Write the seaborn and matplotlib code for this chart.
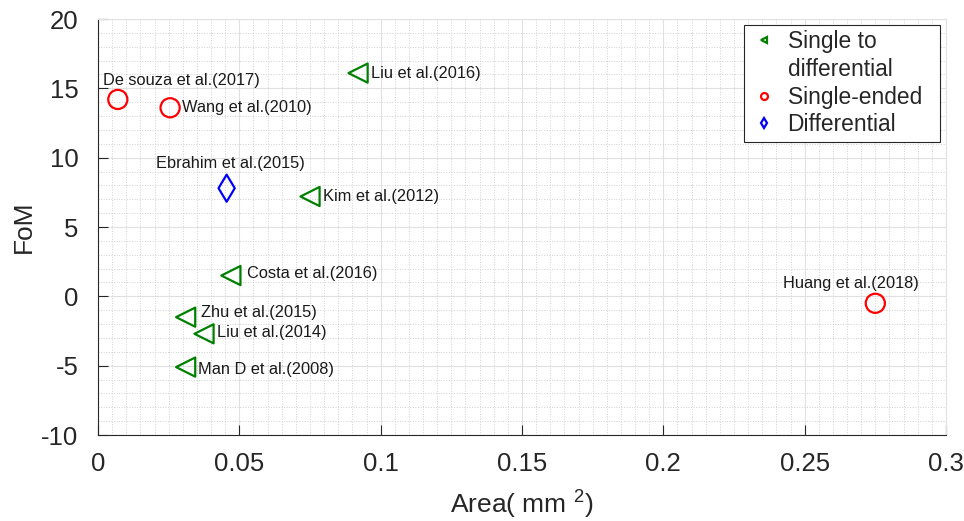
import numpy as np
import pandas as pd
import matplotlib
matplotlib.use("Agg")
import matplotlib.pyplot as plt
from matplotlib.lines import Line2D
from matplotlib.ticker import MultipleLocator
import seaborn as sns

# data
authors = ["Liu et al.(2016)", "De souza et al.(2017)", "Wang et al.(2010)",
           "Ebrahim et al.(2015)", "Kim et al.(2012)", "Costa et al.(2016)",
           "Zhu et al.(2015)", "Liu et al.(2014)", "Man D et al.(2008)",
           "Huang et al.(2018)"]
area = [0.092, 0.007, 0.0255, 0.0455, 0.075, 0.047, 0.031, 0.0375, 0.031, 0.275]
fom = [16.1, 14.2, 13.6, 7.8, 7.2, 1.5, -1.5, -2.7, -5.1, -0.5]
kind = ["Single to differential", "Single-ended", "Single-ended", "Differential",
        "Single to differential", "Single to differential", "Single to differential",
        "Single to differential", "Single to differential", "Single-ended"]
# label offsets in pixels (dx, dy) relative to marker
label_dx = [13, -15, 12, -71, 13, 16, 15, 13, 12, -92]
label_dy = [0, 19, 0, 25, 0, 2, 5, 1, -2, 20]

kinds = ["Single to differential", "Single-ended", "Differential"]
colors = {"Single to differential": "#008000", "Single-ended": "#ff0000", "Differential": "#0000ff"}
markers = {"Single to differential": "<", "Single-ended": "o", "Differential": "d"}

df = pd.DataFrame({"Area": area, "FoM": fom, "Type": kind, "Label": authors})

sns.set_style("white")
plt.rcParams["font.family"] = ["Liberation Sans", "DejaVu Sans"]
plt.rcParams["mathtext.fontset"] = "custom"
plt.rcParams["mathtext.rm"] = "Liberation Sans"

fig = plt.figure(figsize=(9.64, 5.21), dpi=100)
ax = fig.add_axes([0.1017, 0.165, 0.8796, 0.7985])

sns.scatterplot(data=df, x="Area", y="FoM", hue="Type", style="Type",
                palette=colors, markers=markers, hue_order=kinds, style_order=kinds,
                s=190, ax=ax, legend=False, zorder=3)
for coll in ax.collections:
    fc = coll.get_facecolors()
    coll.set_edgecolors(fc)
    coll.set_facecolors("none")
    coll.set_linewidths(1.6)

for a, f, lab, dx, dy in zip(area, fom, authors, label_dx, label_dy):
    ax.annotate(lab, (a, f), xytext=(dx, dy), textcoords="offset pixels",
                ha="left", va="center", fontsize=11.8, color="#1a1a1a")

ax.set_xlim(0, 0.3)
ax.set_ylim(-10, 20)
ax.xaxis.set_minor_locator(MultipleLocator(0.005))
ax.yaxis.set_minor_locator(MultipleLocator(1))
ax.set_xticks(np.arange(0, 0.301, 0.05))
ax.set_xticklabels(["0", "0.05", "0.1", "0.15", "0.2", "0.25", "0.3"])
ax.set_yticks(np.arange(-10, 21, 5))
ax.set_yticklabels([str(v) for v in range(-10, 21, 5)])

ax.grid(which="major", color="#e0e0e0", linestyle="-", linewidth=0.8)
ax.grid(which="minor", color="#d0d0d0", linestyle=":", linewidth=0.7)
ax.set_axisbelow(True)

ax.tick_params(which="major", direction="in", length=7.5, width=0.8,
               labelsize=18.5, colors="#262626", top=False, right=False,
               left=True, bottom=True)
ax.tick_params(axis="x", which="major", pad=12)
ax.tick_params(axis="y", which="major", pad=14)
ax.tick_params(which="minor", length=0)
for side in ["left", "bottom"]:
    ax.spines[side].set_color("#262626")
    ax.spines[side].set_linewidth(0.8)
for side in ["top", "right"]:
    ax.spines[side].set_color("#e0e0e0")
    ax.spines[side].set_linewidth(0.8)

ax.set_xlabel(r"Area( mm $^{2}$)", fontsize=19, color="#262626", labelpad=8)
ax.set_ylabel("FoM", fontsize=19, color="#262626", labelpad=4)

# legend: the first entry wraps over two lines with the marker on the first one
handles = [Line2D([], [], linestyle="none", marker=markers[k], markersize=5,
                  markerfacecolor="none", markeredgecolor=colors[k],
                  markeredgewidth=1.6) for k in kinds]
blank = Line2D([], [], linestyle="none", marker=None)
leg = ax.legend([handles[0], blank, handles[1], handles[2]],
                ["Single to", "differential", "Single-ended  ", "Differential"],
                loc="upper right", fontsize=16.4, frameon=True,
                fancybox=False, edgecolor="#262626", framealpha=1,
                handlelength=1.2, handletextpad=0.45, borderpad=0.25,
                labelspacing=0.2, borderaxespad=0.25)
leg.get_frame().set_linewidth(0.8)

fig.savefig("out.png", dpi=100)
